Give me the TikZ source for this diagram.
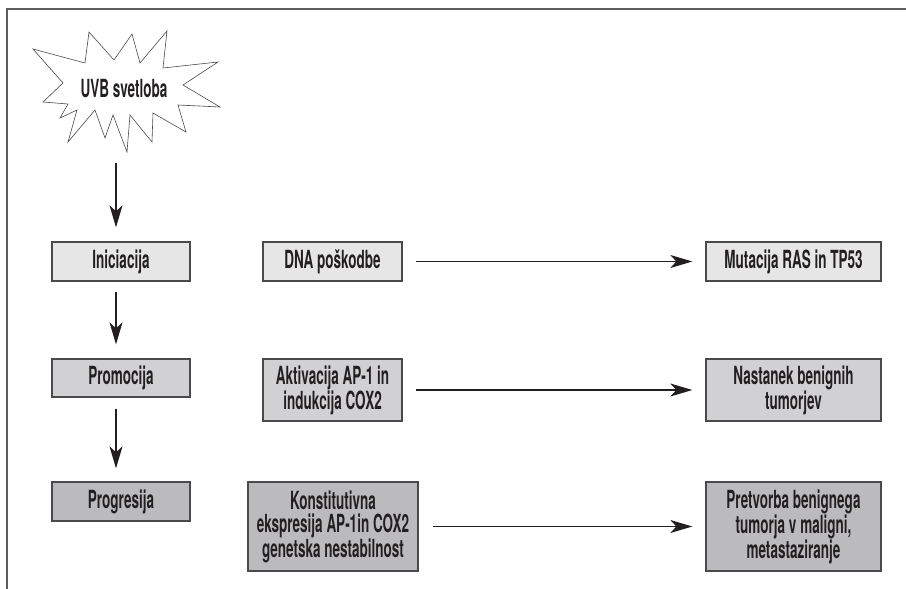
\documentclass[tikz,border=0pt]{standalone}
\usepackage{fontspec}
\setmainfont{TeX Gyre Heros}[FakeStretch=0.54]
\usetikzlibrary{arrows.meta}
\definecolor{ink}{HTML}{231F20}
\definecolor{edge}{HTML}{4A4A4C}
\definecolor{fillA}{HTML}{E6E6E7}
\definecolor{fillB}{HTML}{D1D1D3}
\definecolor{fillC}{HTML}{BBBBBD}
\begin{document}
\begin{tikzpicture}[x=1pt,y=-1pt,
  every node/.style={font=\fontsize{25}{23}\selectfont\bfseries, text=ink},
  stagebox/.style={draw=edge, line width=1.3pt, minimum width=#1, inner sep=0pt, align=center},
  flow/.style={draw=ink, line width=1.2pt, -{Stealth[length=22pt,width=13pt,inset=6pt]}},
  frameline/.style={draw=edge!90, line width=1.8pt}]
\useasboundingbox (0,0) rectangle (906,589);

% open frame along top and left
\coordinate (ftop) at (906,9);
\coordinate (fcorner) at (7,9);
\coordinate (fbot) at (7,589);
\draw[frameline] (ftop) -- (fcorner) -- (fbot);

% starburst for the light source
\draw[edge, line width=0.6pt, fill=white]
  (33,49) -- (85,63) -- (89,32) -- (114,60) -- (132,34) -- (140,63) -- (167,31)
  -- (163,68) -- (218,62) -- (183,85) -- (220,107) -- (178,105) -- (186,132)
  -- (153,113) -- (152,142) -- (130,115) -- (127,152) -- (113,115) -- (105,138)
  -- (95,110) -- (68,142) -- (77,110) -- (60,118) -- (68,104) -- (43,102)
  -- (63,83) -- cycle;
\node (uvb) at (124,89) {UVB svetloba};

% stage column
\node[stagebox=138pt, fill=fillA, minimum height=39pt] (ini) at (121,261.5) {Iniciacija};
\node[stagebox=138pt, fill=fillB, minimum height=38pt] (pro) at (121,378) {Promocija};
\node[stagebox=138pt, fill=fillC, minimum height=39pt] (prg) at (121,501.5) {Progresija};

% molecular events
\node[stagebox=139pt, fill=fillA, minimum height=39pt] (dna) at (332.5,261.5) {DNA poškodbe};
\node[stagebox=139pt, fill=fillB, minimum height=62pt] (akt) at (332.5,390) {Aktivacija AP-1 in\\indukcija COX2};
\node[stagebox=170pt, fill=fillC, minimum height=89pt] (kon) at (333,526.5) {Konstitutivna\\ekspresija AP-1in COX2\\genetska nestabilnost};

% outcomes
\node[stagebox=175pt, fill=fillA, minimum height=39pt] (mut) at (793.5,261.5) {Mutacija RAS in TP53};
\node[stagebox=175pt, fill=fillB, minimum height=62pt] (nas) at (793.5,390) {Nastanek benignih\\tumorjev};
\node[stagebox=175pt, fill=fillC, minimum height=89pt] (pre) at (793.5,526.5) {Pretvorba benignega\\tumorja v maligni,\\metastaziranje};

% vertical flow
\coordinate (uvbfoot) at (116,163);
\draw[flow] (uvbfoot) -- ([yshift=14pt]ini.north -| uvbfoot);
\draw[flow] ([yshift=-10pt]ini.south -| uvbfoot) -- ([yshift=14pt]pro.north -| uvbfoot);
\draw[flow] ([yshift=-11pt]pro.south -| uvbfoot) -- ([yshift=13pt]prg.north -| uvbfoot);

% horizontal flow
\draw[flow] ([xshift=13pt]dna.east) -- ([xshift=-13pt]mut.west);
\draw[flow] ([xshift=13pt]akt.east) -- ([xshift=-13pt]nas.west);
\draw[flow] ([xshift=14pt]kon.east) -- ([xshift=-13pt]pre.west);
\end{tikzpicture}
\end{document}
